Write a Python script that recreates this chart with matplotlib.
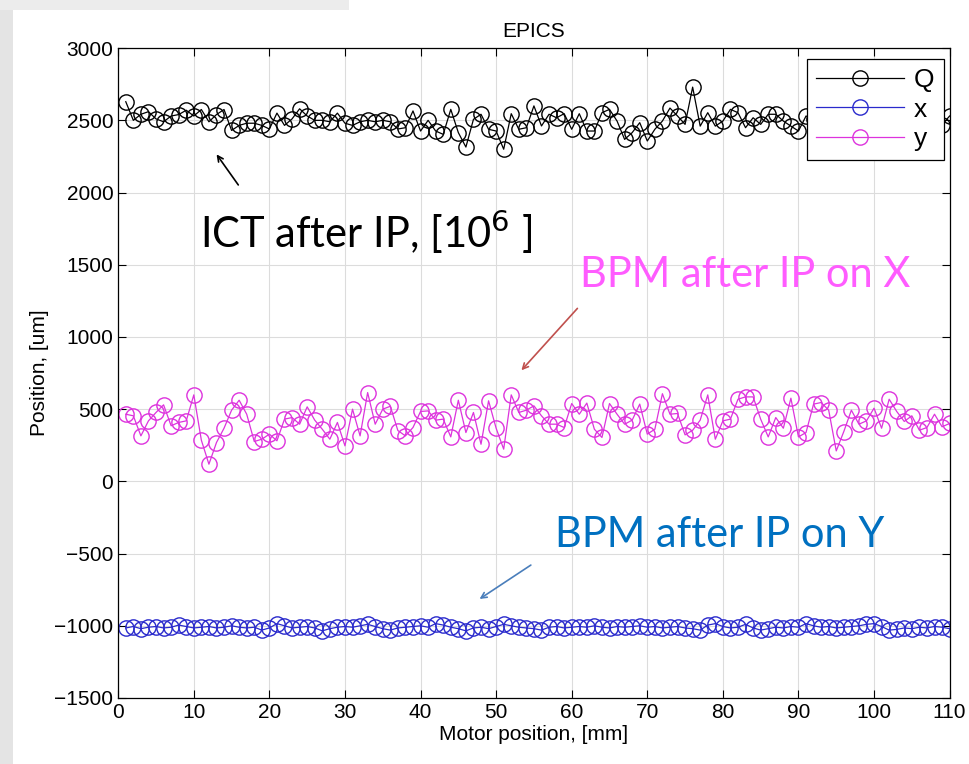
import matplotlib
matplotlib.use("Agg")
import matplotlib.pyplot as plt
from matplotlib.patches import Rectangle
from matplotlib import font_manager

motor_mm = list(range(1, 111))

Q = [2629, 2500, 2542, 2560, 2510, 2490, 2530, 2540, 2570, 2530,
     2575, 2490, 2540, 2575, 2430, 2465, 2480, 2480, 2465, 2440,
     2550, 2465, 2510, 2580, 2530, 2500, 2500, 2490, 2550, 2480,
     2465, 2490, 2500, 2490, 2500, 2490, 2440, 2449, 2565, 2426,
     2500, 2426, 2403, 2576, 2415, 2315, 2507, 2542, 2438, 2426,
     2300, 2546, 2438, 2449, 2600, 2461, 2542, 2518, 2546, 2438,
     2546, 2426, 2426, 2553, 2576, 2495, 2368, 2415, 2484, 2357,
     2438, 2495, 2585, 2530, 2472, 2730, 2460, 2553, 2460, 2495,
     2576, 2553, 2449, 2518, 2472, 2542, 2542, 2495, 2460, 2426,
     2530, 2510, 2480, 2530, 2495, 2470, 2520, 2505, 2485, 2540,
     2500, 2475, 2515, 2490, 2525, 2480, 2505, 2500, 2470, 2530]

x_pos = [-1015, -1005, -1020, -1010, -1005, -1015, -1010, -995, -1005, -1015,
         -1010, -1005, -1015, -1010, -1000, -1010, -1015, -1010, -1030, -1015,
         -985, -1000, -1015, -1010, -1005, -1015, -1035, -1020, -1010, -1005,
         -1010, -1000, -990, -1005, -1020, -1030, -1015, -1010, -1005, -1000,
         -1010, -985, -995, -1010, -1020, -1035, -1015, -1010, -1020, -1005,
         -990, -1000, -1010, -1015, -1020, -1030, -1010, -1005, -1015, -1010,
         -1005, -1010, -1000, -1010, -1015, -1005, -1010, -1005, -1000, -1010,
         -1005, -1015, -1010, -1005, -1015, -1020, -1030, -995, -985, -1005,
         -1015, -1010, -990, -1015, -1030, -1020, -1010, -1015, -1005, -1010,
         -985, -1000, -1010, -1005, -1015, -1010, -1005, -1000, -990, -985,
         -1005, -1030, -1025, -1015, -1020, -1010, -1015, -1005, -1010, -1020]

y_pos = [465, 454, 315, 419, 477, 530, 385, 408, 419, 599,
         285, 119, 269, 368, 493, 562, 465, 276, 292, 327,
         281, 431, 442, 396, 516, 424, 361, 292, 408, 246,
         500, 315, 615, 396, 500, 520, 352, 315, 373, 484,
         488, 424, 431, 308, 562, 338, 477, 257, 558, 368,
         223, 599, 477, 493, 523, 454, 396, 396, 373, 539,
         465, 542, 361, 304, 539, 465, 396, 424, 535, 327,
         361, 607, 465, 470, 322, 354, 424, 599, 292, 419,
         431, 569, 585, 585, 431, 308, 442, 368, 576, 308,
         338, 535, 546, 493, 211, 345, 493, 396, 419, 507,
         368, 569, 484, 415, 454, 354, 373, 465, 378, 401]

series_labels = ["Q", "x", "y"]
series_colors = ["#000000", "#2a2acc", "#dd33dd"]

x_ticks = list(range(0, 111, 10))
y_ticks = list(range(-1500, 3001, 500))

avail = {f.name for f in font_manager.fontManager.ttflist}
axis_font = "Liberation Sans Narrow" if "Liberation Sans Narrow" in avail else "Liberation Sans"
note_font = "Lato" if "Lato" in avail else "DejaVu Sans"

plt.rcParams['font.family'] = [axis_font, 'DejaVu Sans']

fig = plt.figure(figsize=(9.69, 7.64), dpi=100, facecolor="white")
# slide background strip on the left
fig.patches.append(Rectangle((0, 0), 0.013, 1, transform=fig.transFigure,
                             facecolor="#e4e4e4", edgecolor="none", zorder=0))
fig.patches.append(Rectangle((0, 0.987), 0.36, 0.013, transform=fig.transFigure,
                             facecolor="#ececec", edgecolor="none", zorder=0))

ax = fig.add_axes([0.122, 0.0864, 0.858, 0.8506])

for data, lab, col in zip([Q, x_pos, y_pos], series_labels, series_colors):
    ax.plot(motor_mm, data, color=col, linewidth=0.9, marker="o", markersize=11,
            markerfacecolor="none", markeredgecolor=col, markeredgewidth=1.0,
            label=lab)

ax.set_xlim(0, 110)
ax.set_ylim(-1500, 3000)
ax.set_xticks(x_ticks)
ax.set_yticks(y_ticks)
ax.tick_params(direction="in", top=True, right=True, labelsize=15, length=6, width=0.8)
ax.grid(True, color="#dcdcdc", linewidth=0.8)
ax.set_axisbelow(True)
for s in ax.spines.values():
    s.set_linewidth(0.9)

ax.set_title("EPICS", fontsize=15, pad=8)
ax.set_xlabel("Motor position, [mm]", fontsize=15, labelpad=2)
ax.set_ylabel("Position, [um]", fontsize=15, labelpad=4)

leg = ax.legend(loc="upper right", fontsize=19, handlelength=3.3, frameon=True,
                fancybox=False, edgecolor="black", framealpha=1,
                borderaxespad=0.0, labelspacing=0.2, handletextpad=0.4,
                borderpad=0.35, bbox_to_anchor=(0.993, 0.983))
leg.get_frame().set_linewidth(0.9)

ax.text(10.8, 1615, "ICT after IP, [10$^6$ ]", fontsize=30, color="black",
        family=note_font, va="baseline", ha="left")
ax.annotate("", xy=(12.8, 2280), xytext=(16.1, 2037),
            arrowprops=dict(arrowstyle="->", color="black", lw=1.2))

ax.text(61.1, 1347, "BPM after IP on X", fontsize=30, color="#ff5cff",
        family=note_font, va="baseline", ha="left")
ax.annotate("", xy=(53.1, 755), xytext=(61.0, 1212),
            arrowprops=dict(arrowstyle="->", color="#c0504d", lw=1.2))

ax.text(57.8, -455, "BPM after IP on Y", fontsize=30, color="#0070c0",
        family=note_font, va="baseline", ha="left")
ax.annotate("", xy=(47.5, -825), xytext=(54.9, -569),
            arrowprops=dict(arrowstyle="->", color="#4a7ebb", lw=1.2))

fig.savefig("out.png", dpi=100, facecolor=fig.get_facecolor())
